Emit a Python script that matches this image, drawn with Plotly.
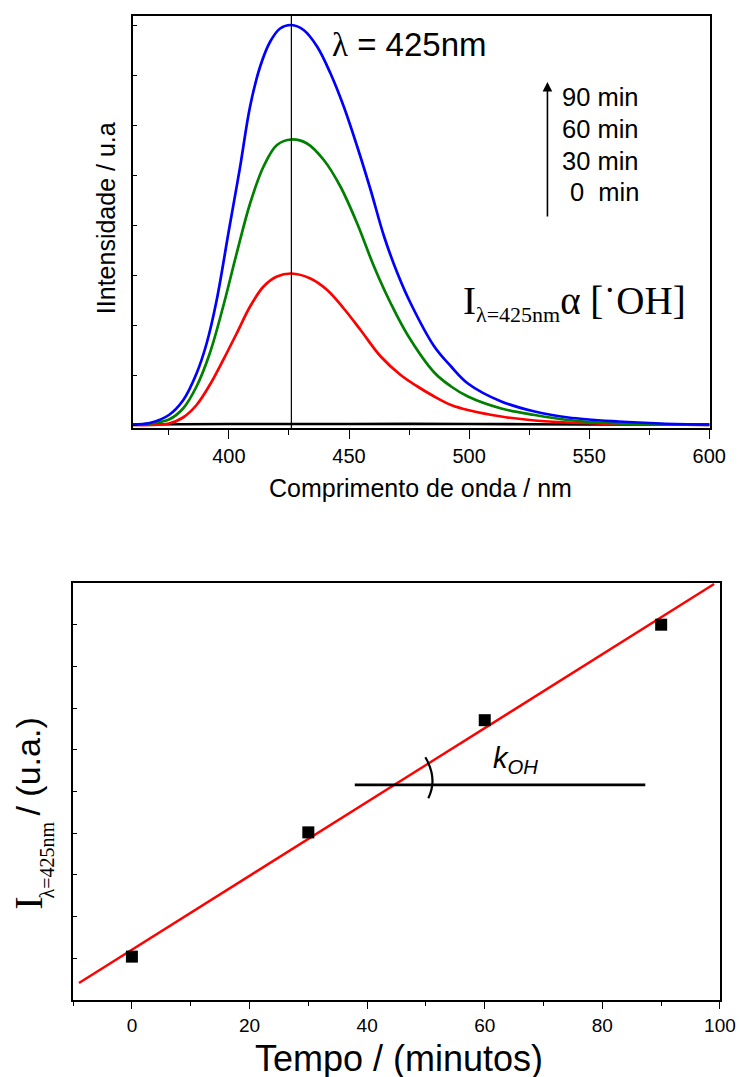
import numpy as np
import plotly.graph_objects as go

# ---------------- data ----------------
wl_blue = [360, 367, 375, 381, 386.5, 390.7, 394.9, 400, 404.6, 408.8, 413, 417.2, 421.3, 426,
           431.1, 436.7, 442.3, 447.8, 453.4, 459, 464.6, 470.2, 475.7, 485.5, 492.5,
           499.5, 513.4, 527.3, 541.3, 562.2, 580, 600]
i_90min = [0.01, 0.04, 0.2, 0.5, 1.03, 1.63, 2.5, 3.9, 5.15, 6.37, 7.17, 7.67, 7.93, 8.0,
           7.9, 7.57, 7.03, 6.37, 5.57, 4.7, 3.77, 3.03, 2.43, 1.57, 1.17,
           0.83, 0.47, 0.27, 0.15, 0.07, 0.03, 0.01]

wl_green = [360, 375, 380.9, 386.5, 392, 397.6, 403.2, 408.8, 414.4, 420, 426, 432.5, 439.5,
            446.4, 453.4, 460.4, 467.4, 474.4, 485.5, 492.5, 499.5, 513.4, 527.3,
            541.3, 562.2, 580, 600]
i_60min = [0.0, 0.11, 0.33, 0.77, 1.43, 2.37, 3.43, 4.43, 5.17, 5.6, 5.71, 5.63, 5.3,
           4.77, 4.03, 3.17, 2.43, 1.8, 1.05, 0.77, 0.57, 0.33, 0.2,
           0.1, 0.03, 0.01, 0.0]

wl_red = [360, 375, 380.9, 386.5, 392, 397.6, 403.2, 408.8, 414.4, 420, 426, 433.9, 440.9,
          447.8, 454.8, 463.2, 471.5, 478.5, 485.5, 492.5, 499.5, 513.4, 527.3, 541.3,
          562.2, 580, 600]
i_30min = [0.0, 0.03, 0.15, 0.4, 0.8, 1.3, 1.83, 2.37, 2.77, 2.97, 3.03, 2.93, 2.7,
           2.33, 1.9, 1.37, 1.0, 0.77, 0.57, 0.4, 0.3, 0.17, 0.09, 0.05,
           0.02, 0.01, 0.0]

wl_black = [360, 400, 450, 500, 550, 600]
i_0min = [0.01, 0.02, 0.02, 0.02, 0.01, 0.01]

peak_nm = 426
time_labels = ["90 min", "60 min", "30 min", "0\u00a0\u00a0min"]

tempo = [0, 30, 60, 90]
i_425 = [1.04, 4.02, 6.71, 9.0]
fit_x = [-9, 99]

# ---------------- figure ----------------
W, H = 740, 1077          # design coordinates (reference picture)
FIG_W = 757               # figure width that lands as 740 px in the photographed page
def px(x):
    return x / W
def py(y):
    return 1 - y / H

SANS = "Arial, Liberation Sans, sans-serif"
SERIF = "Liberation Serif, Times New Roman, serif"

fig = go.Figure()

for wl, vals, col in [(wl_black, i_0min, "#000000"), (wl_red, i_30min, "#ff0000"),
                      (wl_green, i_60min, "#008000"), (wl_blue, i_90min, "#0000ff")]:
    fig.add_trace(go.Scatter(x=wl, y=vals, mode="lines",
                             line=dict(color=col, width=2.7, shape="spline", smoothing=1.0),
                             xaxis="x", yaxis="y", showlegend=False))

coef = np.polyfit(tempo, i_425, 1)
fit_y = list(np.polyval(coef, fit_x))
fig.add_trace(go.Scatter(x=fit_x, y=fit_y, mode="lines", line=dict(color="#ff0000", width=2.4),
                         xaxis="x2", yaxis="y2", showlegend=False))
fig.add_trace(go.Scatter(x=tempo, y=i_425, mode="markers",
                         marker=dict(symbol="square", size=12, color="black"),
                         xaxis="x2", yaxis="y2", showlegend=False))

axis_common = dict(showline=True, mirror=True, linecolor="black", linewidth=1.6,
                   showgrid=False, zeroline=False, tickcolor="black", tickwidth=1.4)

fig.update_layout(
    width=FIG_W, height=H, margin=dict(l=0, r=0, t=0, b=0), autosize=False,
    paper_bgcolor="white", plot_bgcolor="white", showlegend=False,
    xaxis=dict(domain=[px(132.7), px(709.5)], anchor="y", range=[360, 600.5],
               tickmode="linear", tick0=0, dtick=50, ticks="outside", ticklen=9,
               minor=dict(dtick=25, ticks="outside", ticklen=5, tickcolor="black", tickwidth=1.4),
               ticklabelstandoff=0, tickfont=dict(family=SANS, size=20, color="black"),
               **axis_common),
    yaxis=dict(domain=[py(428), py(15.5)], anchor="x", range=[-0.06, 8.19],
               tickmode="linear", tick0=0, dtick=1, ticks="inside", ticklen=4,
               showticklabels=False, **axis_common),
    xaxis2=dict(domain=[px(73), px(719)], anchor="y2", range=[-10, 100],
                tickmode="linear", tick0=0, dtick=20, ticks="outside", ticklen=7,
                minor=dict(dtick=10, ticks="outside", ticklen=4, tickcolor="black", tickwidth=1.4),
                ticklabelstandoff=0, tickfont=dict(family=SANS, size=19, color="black"),
                **axis_common),
    yaxis2=dict(domain=[py(1000), py(583)], anchor="x2", range=[0, 10],
                tickmode="linear", tick0=0, dtick=1, ticks="inside", ticklen=4,
                showticklabels=False, **axis_common),
)

fig.add_shape(type="line", xref="x", yref="y", x0=peak_nm, x1=peak_nm, y0=-0.06, y1=8.19,
              line=dict(color="black", width=1.2))
fig.add_shape(type="line", xref="x2", yref="y2", x0=37.9, x1=87.3, y0=5.16, y1=5.16,
              line=dict(color="black", width=2.6))
fig.add_shape(type="path", xref="x2", yref="y2", path="M 49.9,5.82 Q 52.05,5.3 50.4,4.84",
              line=dict(color="black", width=2.2))

def note(text, x, y, size, family=SANS, angle=0, xa="center", ya="middle"):
    return dict(text=text, x=px(x), y=py(y), xref="paper", yref="paper",
                xanchor=xa, yanchor=ya, textangle=angle, showarrow=False,
                font=dict(family=family, size=size, color="black"))

ann = []
ann.append(note("Comprimento de onda / nm", 420, 488, 25))
ann.append(note("IIntensidade / u.a", 106, 218, 25, angle=-90))
ann.append(note("Tempo / (minutos)", 398, 1058, 36))
ann.append(note("I", 28.3, 903.5, 40, family=SERIF, angle=-90))
ann.append(note("λ=425nm", 46.5, 860, 20, family=SERIF, angle=-90))
ann.append(note("/ (u.a.)", 27.5, 767, 34, angle=-90))
ann.append(note('<span style="font-family:Liberation Serif">λ</span> = 425nm', 330, 44, 33,
                xa="left"))
for lab, yy in zip(time_labels, [97, 129, 161, 192]):
    ann.append(note(lab, 640, yy, 25.5, xa="right"))
ann.append(dict(text="", x=px(546.7), y=py(82), xref="paper", yref="paper",
                ax=0, ay=136, showarrow=True, arrowhead=2, arrowsize=1.2, arrowwidth=1.6,
                arrowcolor="black"))
ann.append(note('I<sub><span style="font-size:22px">λ=425nm</span></sub>α [˙OH]', 460, 303, 39,
                family=SERIF, xa="left"))
ann.append(note("<i>k</i><sub><i>OH</i></sub>", 490, 760, 29, xa="left"))

fig.update_layout(annotations=ann)

fig.write_html(
    "out.html",
    config={"displayModeBar": False},
    post_script=("document.documentElement.style.overflow='hidden';"
                 "document.body.style.overflow='hidden';"
                 "document.body.style.margin='0';"),
)
